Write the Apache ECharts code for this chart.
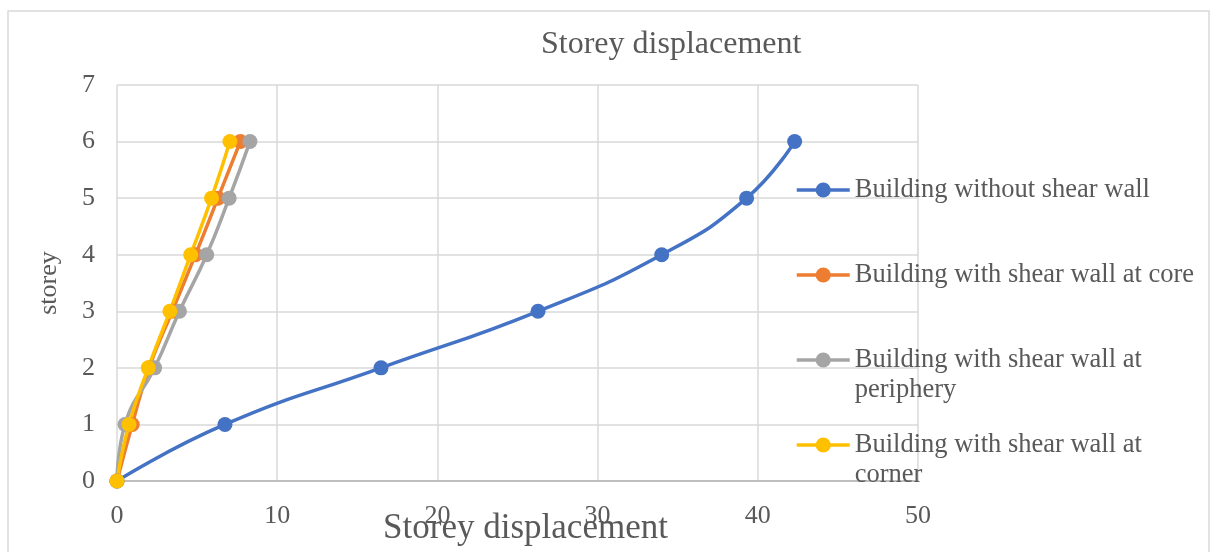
<!DOCTYPE html>
<html>
<head>
<meta charset="utf-8">
<script src="https://cdn.jsdelivr.net/npm/echarts@6/dist/echarts.min.js"></script>
<style>
  html, body { margin: 0; padding: 0; background: #fff; }
  #chart { width: 1216px; height: 552px; }
</style>
</head>
<body>
<div id="chart"></div>
<script>
// storey numbers (y) and displacement per building type (x)
const storeys = [0, 1, 2, 3, 4, 5, 6];
const seriesNames = [
    'Building without shear wall',
    'Building with shear wall at core',
    'Building with shear wall at periphery',
    'Building with shear wall at corner'
];
const dispWithout = [0, 6.74, 16.48, 26.28, 34.0, 39.3, 42.3];
const dispCore = [0, 0.95, 2.0, 3.45, 4.9, 6.3, 7.7];
const dispPeriphery = [0, 0.5, 2.35, 3.9, 5.6, 7.0, 8.3];
const dispCorner = [0, 0.75, 1.95, 3.3, 4.6, 5.9, 7.05];
const colors = ['#4472C4', '#ED7D31', '#A5A5A5', '#FFC000'];

const textColor = '#595959';
const serif = '"Liberation Serif", "Times New Roman", serif';

// pair displacement with storey
function toPoints(disp) {
    return disp.map((d, i) => [d, storeys[i]]);
}

// wrap long legend names the way the original does, and pad each entry
// with an empty line above and below so the marker sits by the first line
function legendLabel(name) {
    let lines = [name];
    if (name.length > 32) {
        const cut = name.lastIndexOf(' ', 32);
        lines = [name.slice(0, cut), name.slice(cut + 1)];
    }
    if (lines.length === 1) lines.push(' ');
    return ' \n' + lines.join('\n');
}

const allDisp = [dispWithout, dispCore, dispPeriphery, dispCorner];

const myChart = echarts.init(document.getElementById('chart'), null, { renderer: 'canvas' });

const option = {
    backgroundColor: '#fff',
    animation: false,
    color: colors,
    title: {
        text: 'Storey displacement',
        left: 541,
        top: 29,
        padding: 0,
        textStyle: { fontFamily: serif, fontSize: 32, fontWeight: 'normal', color: textColor }
    },
    graphic: [{
        type: 'rect',
        shape: { x: 8, y: 11, width: 1201, height: 560 },
        style: { fill: 'none', stroke: '#d9d9d9', lineWidth: 1.5 },
        silent: true
    }],
    legend: {
        orient: 'vertical',
        left: 795,
        top: 145,
        padding: 0,
        itemWidth: 53,
        itemHeight: 19,
        itemGap: -5,
        data: seriesNames,
        formatter: legendLabel,
        lineStyle: { width: 3.5 },
        textStyle: { fontFamily: serif, fontSize: 26.5, color: textColor, lineHeight: 30 }
    },
    grid: { left: 117, right: 298, top: 85, bottom: 71, outerBoundsMode: 'none', containLabel: false },
    xAxis: {
        type: 'value',
        min: 0,
        max: 50,
        interval: 10,
        name: 'Storey displacement',
        nameLocation: 'middle',
        nameGap: 30,
        nameMoveOverlap: false,
        nameTextStyle: { fontFamily: serif, fontSize: 35, color: textColor, padding: [0, 0, 0, 16] },
        axisLine: { show: true, lineStyle: { color: '#bfbfbf', width: 2 } },
        axisTick: { show: false },
        axisLabel: { fontFamily: serif, fontSize: 26, color: textColor, margin: 22 },
        splitLine: { show: true, lineStyle: { color: '#d9d9d9', width: 1.5 } }
    },
    yAxis: {
        type: 'value',
        min: 0,
        max: 7,
        interval: 1,
        name: 'storey',
        nameLocation: 'middle',
        nameGap: 55,
        nameMoveOverlap: false,
        nameTextStyle: { fontFamily: serif, fontSize: 26, color: textColor },
        axisLine: { show: false },
        axisTick: { show: false },
        axisLabel: { fontFamily: serif, fontSize: 26, color: textColor, margin: 22 },
        splitLine: { show: true, lineStyle: { color: '#d9d9d9', width: 1.5 } }
    },
    series: seriesNames.map((name, i) => ({
        name: name,
        type: 'line',
        smooth: true,
        symbol: 'circle',
        symbolSize: 15,
        lineStyle: { width: 3.5, color: colors[i] },
        itemStyle: { color: colors[i] },
        data: toPoints(allDisp[i])
    }))
};

myChart.setOption(option);
</script>
</body>
</html>
